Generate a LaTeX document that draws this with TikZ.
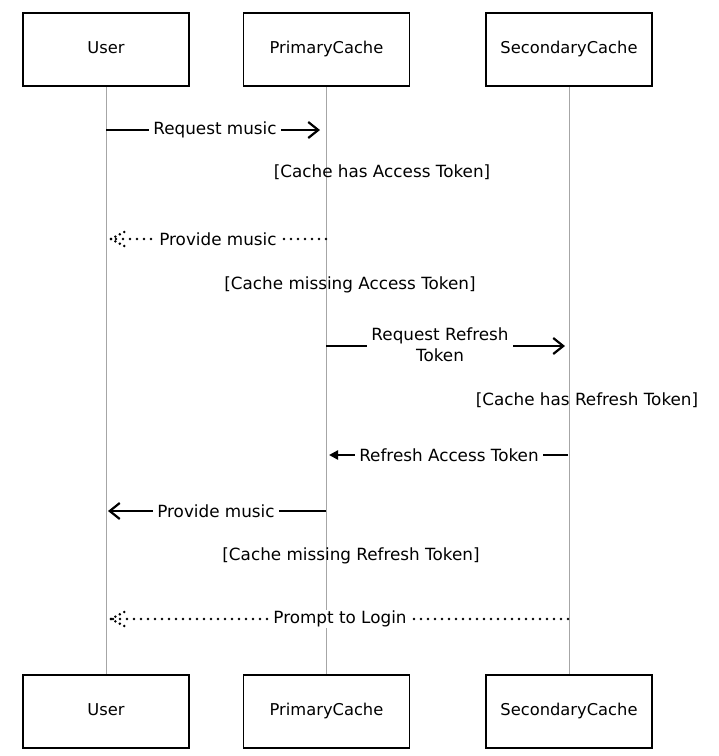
\documentclass[tikz,border=0pt]{standalone}
\usepackage{fontspec}
\setmainfont{DejaVu Sans}
\usetikzlibrary{arrows.meta}
\begin{document}
\begin{tikzpicture}[x=1pt,y=-1pt,
  actor/.style={draw=black,line width=1.9pt,minimum width=166pt,minimum height=73pt,inner sep=0pt,text height=11.5pt,text depth=3.5pt,font=\fontsize{16.3}{18}\selectfont},
  life/.style={draw=black!35,line width=0.9pt},
  msg/.style={draw=black,line width=2.2pt,-{Straight Barb[length=10pt,width=16pt,line width=2.2pt]}},
  fmsg/.style={draw=black,line width=2.2pt,-{Triangle[length=9pt,width=9pt]}},
  dmsg/.style={draw=black,line width=2.8pt,line cap=round,dash pattern=on 0pt off 7pt},
  dhead/.style={draw=black,line width=2.8pt,line cap=round,dash pattern=on 0pt off 5pt},
  lbl/.style={fill=white,inner xsep=4pt,inner ysep=1pt,font=\fontsize{16.8}{21}\selectfont,align=center},
  guard/.style={font=\fontsize{16.8}{18}\selectfont,inner sep=0pt}]
\useasboundingbox (0,0) rectangle (719,756);
\fill[white] (0,0) rectangle (719,756);

% actors
\node[actor] (u)  at (106,49.5) {User};
\node[actor] (p)  at (326.5,49.5) {PrimaryCache};
\node[actor] (s)  at (569,49.5) {SecondaryCache};
\node[actor] (ub) at (106,711.5) {User};
\node[actor] (pb) at (326.5,711.5) {PrimaryCache};
\node[actor] (sb) at (569,711.5) {SecondaryCache};

% lifelines
\draw[life] (u.south) -- (ub.north);
\draw[life] (p.south) -- (pb.north);
\draw[life] (s.south) -- (sb.north);

% message anchor points
\coordinate (m1a) at (106,130);   \coordinate (m1b) at (320,130);
\coordinate (m2a) at (326,239);   \coordinate (m2b) at (111,239);
\coordinate (m3a) at (326,346);   \coordinate (m3b) at (565,346);
\coordinate (m4a) at (568,455);   \coordinate (m4b) at (329,455);
\coordinate (m5a) at (326,511);   \coordinate (m5b) at (108,511);
\coordinate (m6a) at (568,619);   \coordinate (m6b) at (111,619);

% 1 Request music
\draw[msg] (m1a) -- (m1b);
\node[lbl] (l1) at (215,130) {Request music};
% guard
\node[guard] (g1) at (382,172) {[Cache has Access Token]};
% 2 Provide music (dotted)
\draw[dmsg] (m2a) -- (m2b);
\draw[dhead] (m2b) -- ++(15,-8);
\draw[dhead] (m2b) -- ++(15,8);
\node[lbl] (l2) at (218,239) {Provide music};
% guard
\node[guard] (g2) at (350,285) {[Cache missing Access Token]};
% 3 Request Refresh Token
\draw[msg] (m3a) -- (m3b);
\node[lbl] (l3) at (440,345) {Request Refresh\\Token};
% guard
\node[guard] (g3) at (587,400) {[Cache has Refresh Token]};
% 4 Refresh Access Token
\draw[fmsg] (m4a) -- (m4b);
\node[lbl] (l4) at (449,455) {Refresh Access Token};
% 5 Provide music
\draw[msg] (m5a) -- (m5b);
\node[lbl] (l5) at (216,511) {Provide music};
% guard
\node[guard] (g4) at (351,556) {[Cache missing Refresh Token]};
% 6 Prompt to Login
\draw[dmsg] (m6a) -- (m6b);
\draw[dhead] (m6b) -- ++(15,-8);
\draw[dhead] (m6b) -- ++(15,8);
\node[lbl] (l6) at (340,619) {Prompt to Login};
\end{tikzpicture}
\end{document}
